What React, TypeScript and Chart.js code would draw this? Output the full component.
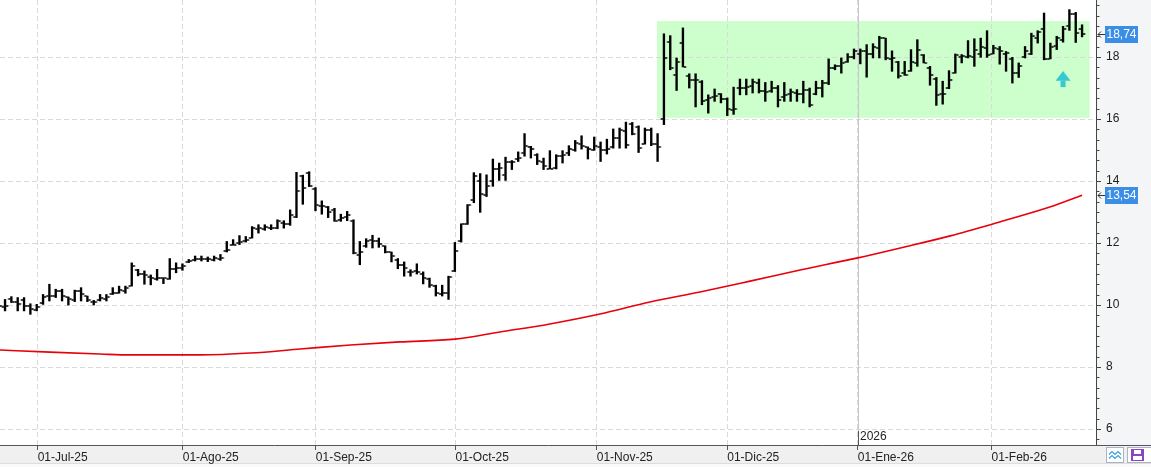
import React, { useEffect, useRef } from 'react';
import { Chart, registerables } from 'chart.js';

Chart.register(...registerables);

// ---- Data (bar index = trading session) ----
const highs = [
  10.00,10.18,10.27,10.24,10.24,10.04,10.02,10.34,10.67,10.51,
  10.51,10.26,10.48,10.56,10.29,10.15,10.34,10.34,10.56,10.61,
  10.61,11.36,11.15,11.10,10.97,11.15,10.88,11.50,11.36,11.33,
  11.47,11.58,11.58,11.55,11.58,11.63,12.05,12.11,12.24,12.21,
  12.53,12.59,12.59,12.59,12.75,12.72,13.07,14.28,14.19,14.30,
  13.79,13.36,13.18,13.12,12.93,13.02,12.75,12.05,12.14,12.25,
  12.16,11.91,11.71,11.50,11.39,11.14,11.33,11.07,10.87,10.64,
  10.64,10.93,12.02,12.62,13.24,14.27,14.24,14.20,14.71,14.58,
  14.77,14.66,14.94,15.53,15.12,14.88,14.74,14.98,14.85,14.98,
  15.14,15.31,15.46,15.10,15.42,15.26,15.35,15.68,15.71,15.90,
  15.89,15.78,15.71,15.71,15.53,18.75,18.69,17.97,18.94,17.46,
  17.46,17.24,16.78,16.97,16.82,16.68,17.03,17.29,17.29,17.29,
  17.29,17.18,17.22,17.08,17.18,16.97,16.95,17.22,17.00,17.22,
  17.25,17.94,17.75,17.97,18.11,18.26,18.26,18.40,18.43,18.67,
  18.61,18.20,17.86,17.86,18.24,18.56,18.08,17.70,17.34,17.22,
  17.56,18.10,18.08,18.53,18.59,18.61,18.85,18.38,18.34,18.18,
  17.99,17.81,18.34,18.77,18.85,19.42,18.45,18.67,18.99,19.53,
  19.44,19.04,
];
const lows = [
  9.90,9.81,10.08,9.81,9.81,9.70,9.81,10.02,10.13,10.24,
  10.13,10.00,10.11,10.13,10.11,10.00,10.13,10.13,10.34,10.38,
  10.38,10.61,10.94,10.67,10.65,10.80,10.69,10.83,11.04,11.12,
  11.37,11.42,11.42,11.40,11.42,11.44,11.71,11.93,11.95,12.03,
  12.16,12.32,12.41,12.43,12.46,12.48,12.57,12.82,13.25,13.82,
  13.04,12.93,12.82,12.70,12.70,12.72,11.65,11.30,11.86,11.84,
  11.86,11.68,11.39,11.17,10.93,10.93,11.00,10.68,10.57,10.29,
  10.29,10.18,11.08,12.03,12.60,13.30,12.99,13.50,13.83,14.02,
  14.02,14.37,14.63,14.80,14.74,14.53,14.37,14.39,14.39,14.58,
  14.82,14.96,15.03,14.71,14.99,14.63,14.87,15.06,15.06,15.06,
  15.49,14.92,15.19,15.14,14.63,15.82,17.59,16.92,17.68,17.00,
  16.39,16.46,16.19,16.57,16.52,16.11,16.15,16.78,16.78,16.84,
  16.84,16.57,16.86,16.39,16.57,16.57,16.57,16.52,16.39,16.78,
  16.71,17.11,17.59,17.48,17.83,17.94,17.78,17.35,17.97,17.97,
  17.91,17.54,17.32,17.41,17.54,17.70,17.81,17.09,16.44,16.48,
  16.98,17.48,17.81,17.97,17.70,17.99,17.99,18.10,17.77,17.54,
  17.16,17.34,17.97,18.08,18.45,17.91,17.94,18.24,18.48,18.86,
  18.47,18.65,
];
const opens = [
  9.95,9.95,10.20,10.10,10.15,9.97,9.85,10.05,10.30,10.30,
  10.45,10.25,10.15,10.45,10.28,10.10,10.15,10.20,10.35,10.40,
  10.45,10.62,11.12,11.00,10.90,10.85,10.88,10.85,11.15,11.20,
  11.38,11.45,11.50,11.50,11.45,11.50,11.75,11.95,12.00,12.05,
  12.16,12.45,12.45,12.50,12.48,12.65,12.60,12.85,14.15,14.25,
  13.75,13.20,13.15,13.05,12.75,12.85,12.72,11.60,11.90,12.10,
  12.05,11.90,11.70,11.45,11.30,11.05,11.10,11.00,10.85,10.60,
  10.35,10.40,11.10,12.08,12.62,13.38,13.99,13.56,14.01,14.40,
  14.20,14.60,14.70,14.90,15.10,14.85,14.60,14.40,14.42,14.80,
  14.90,15.00,15.20,15.10,15.00,15.10,15.00,15.10,15.40,15.60,
  15.85,15.75,15.20,15.65,15.20,16.00,18.47,17.43,18.45,17.40,
  17.25,17.20,16.60,16.70,16.80,16.65,16.30,17.00,17.00,17.05,
  17.15,16.90,16.90,17.00,16.70,16.80,16.85,16.80,16.95,16.80,
  17.00,17.15,17.65,17.70,17.85,18.00,18.10,18.20,18.10,18.30,
  18.60,17.95,17.85,17.50,17.55,17.80,18.05,17.65,17.30,16.80,
  17.00,17.50,18.00,18.00,18.00,18.10,18.30,18.10,18.25,18.10,
  17.95,17.50,18.00,18.10,18.60,18.91,17.95,18.35,18.55,19.00,
  19.40,18.90,
];
const closes = [
  9.96,9.97,10.10,10.02,9.97,9.88,9.95,10.26,10.29,10.45,
  10.29,10.20,10.45,10.34,10.15,10.11,10.24,10.26,10.40,10.47,
  10.56,11.26,11.01,10.97,10.88,10.88,10.86,11.15,11.20,11.26,
  11.42,11.50,11.50,11.47,11.52,11.52,11.79,11.95,12.03,12.11,
  12.48,12.48,12.51,12.50,12.70,12.61,12.89,13.68,13.76,13.85,
  13.23,13.18,13.00,12.72,12.80,12.91,11.68,11.71,12.07,12.07,
  11.97,11.71,11.57,11.28,11.18,11.07,11.07,10.87,10.64,10.39,
  10.39,10.89,11.75,12.60,13.24,14.17,13.59,13.85,14.39,14.42,
  14.60,14.60,14.74,15.14,15.03,14.63,14.47,14.40,14.80,14.85,
  15.03,15.23,15.14,15.03,15.14,14.99,15.03,15.39,15.66,15.17,
  15.53,15.06,15.66,15.19,15.10,17.97,17.65,17.83,17.68,17.25,
  17.25,16.57,16.68,16.75,16.65,16.32,16.32,17.00,17.03,17.18,
  16.89,16.86,17.00,16.62,16.78,16.86,16.82,16.95,16.46,17.00,
  17.16,17.65,17.70,17.81,18.00,18.18,18.18,18.11,18.32,18.61,
  17.97,17.97,17.38,17.43,17.84,18.24,17.81,17.43,16.78,16.81,
  17.27,18.08,18.02,18.02,18.24,18.31,18.08,18.29,18.18,18.13,
  17.48,17.70,18.18,18.67,18.81,17.94,18.31,18.61,18.90,19.40,
  18.77,18.74,
];

// red moving average, read at selected sessions
const maIdx = [0.2, 8.1, 16, 20.7, 31.8, 39.7, 47.6, 55.5, 63.3, 72, 79.1, 87, 94.9, 102.8, 110.7, 118.6, 126.5, 135.6, 142.3, 150.2, 158, 165.9, 171];
const maVal = [8.55, 8.48, 8.42, 8.39, 8.39, 8.45, 8.58, 8.71, 8.81, 8.90, 9.13, 9.39, 9.71, 10.10, 10.42, 10.77, 11.13, 11.52, 11.84, 12.23, 12.68, 13.16, 13.54];

// axis ticks
const monthTickIdx = [6.15, 29.05, 50.05, 72.1, 94.4, 115, 135.6, 156.7];
const monthLabels = ['01-Jul-25', '01-Ago-25', '01-Sep-25', '01-Oct-25', '01-Nov-25', '01-Dic-25', '01-Ene-26', '01-Feb-26'];
const yearMarkIdx = 135.6;
const yearLabel = '2026';
const yTickValues = [6, 8, 10, 12, 14, 16, 18];

// annotations
const zoneBox = [103.9, 172.2, 16.04, 19.16]; // x0, x1, yLow, yHigh
const signalArrow = [168, 17.55, 17.03]; // index, tip, bottom
const lastPrice = 18.74;
const lastAverage = 13.54;

const X_MIN = 0.205;
const X_MAX = 173.2;
const Y_MIN = 5.484;
const Y_MAX = 19.84;

const FONT = "'Liberation Sans', Arial, sans-serif";
const TEXT = '#222222';

const overlay = {
  id: 'overlay',
  beforeDraw(chart: any) {
    const { ctx, chartArea: a, scales, width, height } = chart;
    const x = scales.x, y = scales.y;
    ctx.save();
    ctx.fillStyle = '#ffffff';
    ctx.fillRect(0, 0, width, height);
    ctx.fillStyle = '#f4f5f7';
    ctx.fillRect(a.right, 0, width - a.right, a.bottom);
    ctx.fillStyle = '#f0f0f0';
    ctx.fillRect(0, a.bottom, width, height - a.bottom);
    ctx.fillStyle = '#fafafa';
    ctx.fillRect(0, 463, width, height - 463);
    ctx.fillStyle = '#dddddd';
    ctx.fillRect(0, 463, width, 1);
    const zl = x.getPixelForValue(zoneBox[0]);
    const zr = x.getPixelForValue(zoneBox[1]);
    const zt = y.getPixelForValue(zoneBox[3]);
    const zb = y.getPixelForValue(zoneBox[2]);
    ctx.fillStyle = '#ccffcc';
    ctx.fillRect(zl, zt, zr - zl, zb - zt);
    ctx.restore();
  },
  beforeDatasetsDraw(chart: any) {
    const { ctx, chartArea: a, scales } = chart;
    const px = Math.round(scales.x.getPixelForValue(yearMarkIdx)) + 0.5;
    ctx.save();
    ctx.lineWidth = 1;
    ctx.strokeStyle = '#c8c8c8';
    ctx.beginPath();
    ctx.moveTo(px, a.top);
    ctx.lineTo(px, a.bottom - 14);
    ctx.stroke();
    ctx.strokeStyle = '#555555';
    ctx.beginPath();
    ctx.moveTo(px, a.bottom - 14);
    ctx.lineTo(px, a.bottom);
    ctx.stroke();
    ctx.fillStyle = TEXT;
    ctx.font = `12px ${FONT}`;
    ctx.textBaseline = 'middle';
    ctx.textAlign = 'left';
    ctx.fillText(yearLabel, px + 1.5, a.bottom - 8);
    ctx.restore();
  },
  afterDraw(chart: any) {
    const { ctx, chartArea: a, scales, width } = chart;
    const x = scales.x, y = scales.y;
    ctx.save();
    // extend bottom axis line under the price axis
    ctx.fillStyle = '#555555';
    ctx.fillRect(a.right, a.bottom, width - a.right, 1);
    // minor ticks on price axis
    ctx.strokeStyle = '#444444';
    ctx.lineWidth = 1;
    for (let k = Math.ceil(Y_MIN * 3); k <= Math.floor(Y_MAX * 3); k++) {
      if (k % 6 === 0) continue;
      const py = Math.round(y.getPixelForValue(k / 3)) + 0.5;
      ctx.beginPath();
      ctx.moveTo(a.right + 1, py);
      ctx.lineTo(a.right + 3.5, py);
      ctx.stroke();
    }
    // price labels
    [lastPrice, lastAverage].forEach((v) => {
      const py = y.getPixelForValue(v);
      const bx = a.right + 9;
      ctx.fillStyle = '#3a8ee6';
      ctx.fillRect(bx, Math.round(py - 8.5), 33, 17);
      ctx.fillStyle = '#ffffff';
      ctx.font = `12px ${FONT}`;
      ctx.textAlign = 'center';
      ctx.textBaseline = 'middle';
      ctx.fillText(v.toFixed(2).replace('.', ','), bx + 16.5, Math.round(py) + 0.5);
      ctx.strokeStyle = '#333333';
      ctx.beginPath();
      const ly = Math.round(py) + 0.5;
      ctx.moveTo(a.right + 2, ly);
      ctx.lineTo(bx, ly);
      ctx.moveTo(a.right + 5, ly - 3);
      ctx.lineTo(a.right + 2, ly);
      ctx.lineTo(a.right + 5, ly + 3);
      ctx.stroke();
    });
    // signal arrow
    const cx = x.getPixelForValue(signalArrow[0]);
    const tip = y.getPixelForValue(signalArrow[1]);
    const bot = y.getPixelForValue(signalArrow[2]);
    const hb = tip + (bot - tip) * 0.6;
    ctx.fillStyle = '#36c9cf';
    ctx.beginPath();
    ctx.moveTo(cx - 7.5, hb);
    ctx.lineTo(cx, tip);
    ctx.lineTo(cx + 7.5, hb);
    ctx.closePath();
    ctx.fill();
    ctx.fillRect(cx - 2.5, hb, 5, bot - hb);
    // small toolbar icons in the corner
    ctx.fillStyle = '#ffffff';
    ctx.strokeStyle = '#aab4c4';
    ctx.fillRect(1106.5, 447.5, 17, 15);
    ctx.strokeRect(1106.5, 447.5, 17, 15);
    ctx.fillRect(1127.5, 447.5, 26, 15);
    ctx.strokeRect(1127.5, 447.5, 26, 15);
    ctx.strokeStyle = '#3a9ee0';
    ctx.lineWidth = 1.2;
    [453, 457].forEach((yy) => {
      ctx.beginPath();
      ctx.moveTo(1109, yy + 1.5);
      ctx.lineTo(1112, yy - 1.5);
      ctx.lineTo(1115, yy + 1.5);
      ctx.lineTo(1118, yy - 1.5);
      ctx.lineTo(1121, yy + 1.5);
      ctx.stroke();
    });
    ctx.fillStyle = '#8a44c8';
    ctx.fillRect(1131, 449, 13, 12);
    ctx.fillStyle = '#ffffff';
    ctx.fillRect(1134, 450, 7, 4);
    ctx.fillRect(1133, 456, 9, 4);
    ctx.restore();
  },
};

function makeTick(side: string) {
  const c = document.createElement('canvas');
  c.width = 10;
  c.height = 2;
  const g = c.getContext('2d') as CanvasRenderingContext2D;
  g.fillStyle = '#000000';
  if (side === 'right') g.fillRect(5.8, 0.25, 2.5, 1.5);
  else g.fillRect(1.7, 0.25, 2.5, 1.5);
  return c;
}

export default function App() {
  const ref = useRef<HTMLCanvasElement>(null);
  useEffect(() => {
    document.body.style.margin = '0';
    const canvas = ref.current as HTMLCanvasElement;
    const closeTick = makeTick('right');
    const openTick = makeTick('left');
    Chart.defaults.font.family = FONT;
    const chart = new Chart(canvas, {
      type: 'bar',
      data: {
        datasets: [
          {
            type: 'line',
            data: maIdx.map((v, i) => ({ x: v, y: maVal[i] })),
            borderColor: '#e8000b',
            borderWidth: 1.6,
            pointRadius: 0,
            cubicInterpolationMode: 'monotone',
            fill: false,
            order: 0,
          },
          {
            type: 'bar',
            data: highs.map((h, i) => ({ x: i, y: [lows[i], h] })),
            backgroundColor: '#000000',
            borderWidth: 0,
            barThickness: 1.7,
            grouped: false,
            order: 2,
          },
          {
            type: 'scatter',
            data: closes.map((c, i) => ({ x: i, y: c })),
            pointStyle: closeTick,
            pointRadius: 3,
            order: 1,
          },
          {
            type: 'scatter',
            data: opens.map((o, i) => ({ x: i, y: o })),
            pointStyle: openTick,
            pointRadius: 3,
            order: 1,
          },
        ] as any,
      },
      options: {
        responsive: false,
        animation: false,
        devicePixelRatio: 1,
        layout: { padding: 0, autoPadding: false },
        plugins: { legend: { display: false }, tooltip: { enabled: false } },
        events: [],
        scales: {
          x: {
            type: 'linear',
            min: X_MIN,
            max: X_MAX,
            offset: false,
            afterBuildTicks: (s: any) => {
              s.ticks = monthTickIdx.map((v) => ({ value: v }));
            },
            afterFit: (s: any) => {
              s.height = 22;
              s.paddingLeft = 0;
              s.paddingRight = 0;
            },
            ticks: {
              autoSkip: false,
              maxRotation: 0,
              minRotation: 0,
              align: 'start',
              padding: 0,
              color: TEXT,
              font: { size: 12, family: FONT },
              callback: (_v: any, i: number) => monthLabels[i],
            },
            grid: {
              offset: false,
              color: '#d9d9d9',
              lineWidth: 1,
              tickLength: 5,
              tickColor: '#555555',
              tickBorderDash: [1, 0],
            },
            border: { display: true, color: '#555555', width: 1, dash: [5, 3] },
          },
          y: {
            type: 'linear',
            position: 'right',
            min: Y_MIN,
            max: Y_MAX,
            afterBuildTicks: (s: any) => {
              s.ticks = yTickValues.map((v) => ({ value: v }));
            },
            afterFit: (s: any) => {
              s.width = 55;
              s.paddingTop = 0;
              s.paddingBottom = 0;
            },
            ticks: {
              padding: 5,
              color: TEXT,
              font: { size: 12, family: FONT },
              callback: (v: any) => String(v),
            },
            grid: {
              offset: false,
              color: '#d9d9d9',
              lineWidth: 1,
              tickLength: 5,
              tickColor: '#444444',
              tickBorderDash: [1, 0],
            },
            border: { display: true, color: '#444444', width: 1, dash: [5, 3] },
          },
        },
      } as any,
      plugins: [overlay],
    });
    return () => chart.destroy();
  }, []);
  return (
    <div style={{ width: 1151, height: 467 }}>
      <canvas ref={ref} width={1151} height={467} style={{ display: 'block' }} />
    </div>
  );
}
